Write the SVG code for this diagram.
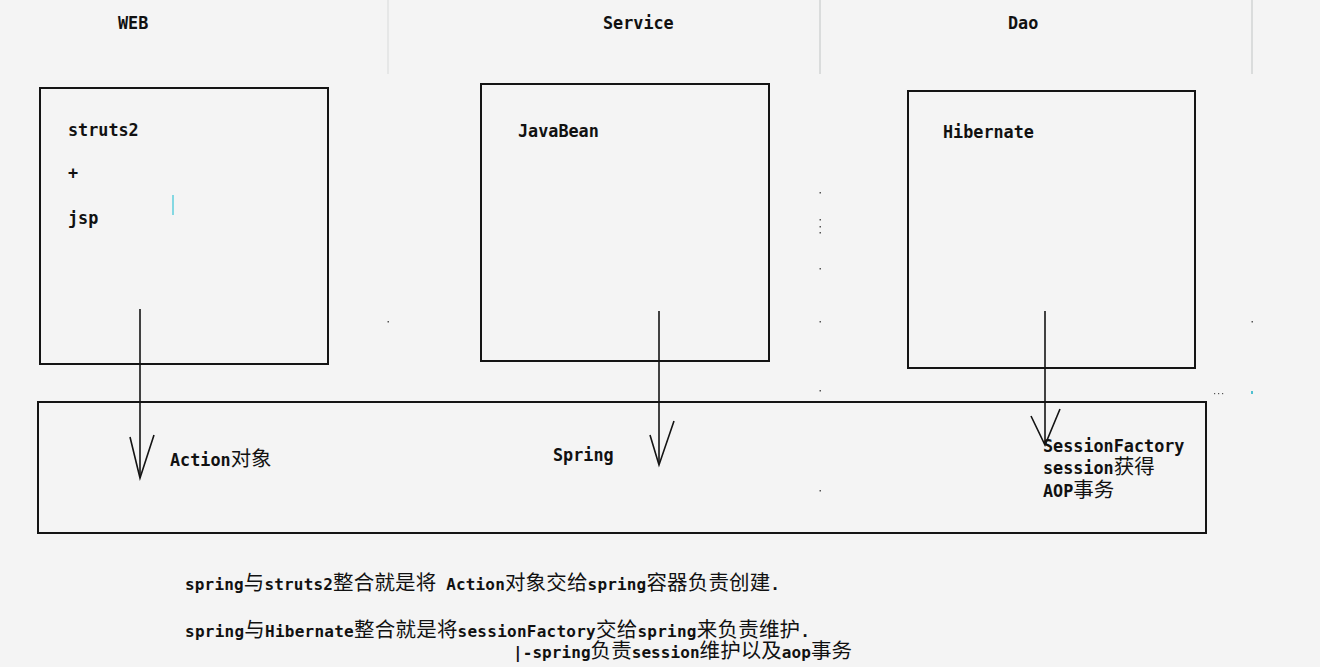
<svg xmlns="http://www.w3.org/2000/svg" width="1320" height="667" viewBox="0 0 1320 667">
<defs>
<style>
.bg{fill:#f4f4f4}
.box{fill:none;stroke:#141414;stroke-width:2}
.arr{fill:none;stroke:#141414;stroke-width:1.6}
.t{font-family:"DejaVu Sans Mono","Liberation Mono","Noto Sans CJK SC",monospace;font-weight:bold;font-size:16.8px;fill:#111}
.n{font-size:16px}
.c{font-family:"Noto Sans CJK SC",sans-serif;font-weight:normal;font-size:20.5px}
.sep{stroke:#c8cccc;stroke-width:1.2}
.dot{fill:#555}
</style>
</defs>
<rect class="bg" x="0" y="0" width="1320" height="667"/>
<g id="artifacts">
<line class="sep" x1="388" y1="0" x2="388" y2="74" stroke-opacity="0.5"/>
<line class="sep" x1="820" y1="0" x2="820" y2="74"/>
<line class="sep" x1="1252" y1="0" x2="1252" y2="74"/>
<line x1="173" y1="195" x2="173" y2="215" stroke="#5fcfdc" stroke-width="1.5"/>
<rect class="dot" x="819.5" y="192" width="1.5" height="1.5"/>
<rect class="dot" x="819.5" y="219" width="1.5" height="1.5"/>
<rect class="dot" x="819.5" y="226" width="1.5" height="1.5"/>
<rect class="dot" x="819.5" y="232" width="1.5" height="1.5"/>
<rect class="dot" x="819.5" y="268" width="1.5" height="1.5"/>
<rect class="dot" x="819.5" y="321" width="1.5" height="1.5"/>
<rect class="dot" x="819.5" y="390" width="1.5" height="1.5"/>
<rect class="dot" x="819.5" y="490" width="1.5" height="1.5"/>
<rect class="dot" x="387.5" y="321" width="1.5" height="1.5"/>
<rect class="dot" x="1251.5" y="321" width="1.5" height="1.5"/>
<rect x="1251" y="391" width="2" height="3" fill="#4fc0d0"/>
<rect class="dot" x="1214" y="393" width="1.2" height="1.2"/>
<rect class="dot" x="1218" y="393" width="1.2" height="1.2"/>
<rect class="dot" x="1222" y="393" width="1.2" height="1.2"/>
</g>
<g id="headers">
<text class="t" x="118" y="29">WEB</text>
<text class="t" x="603" y="29">Service</text>
<text class="t" x="1008" y="29">Dao</text>
</g>
<g id="web">
<rect class="box" x="40" y="88" width="288" height="276"/>
<text class="t" x="68" y="136">struts2</text>
<text class="t" x="68" y="179">+</text>
<text class="t" x="68" y="224">jsp</text>
</g>
<g id="service">
<rect class="box" x="481" y="84" width="288" height="277"/>
<text class="t" x="518" y="137">JavaBean</text>
</g>
<g id="dao">
<rect class="box" x="908" y="91" width="287" height="277"/>
<text class="t" x="943" y="138">Hibernate</text>
</g>
<g id="spring">
<rect class="box" x="38" y="402" width="1168" height="131"/>
<text class="t" x="170" y="466">Action<tspan class="c">对象</tspan></text>
<text class="t" x="553" y="461">Spring</text>
<text class="t" x="1043" y="452">SessionFactory</text>
<text class="t" x="1043" y="474">session<tspan class="c">获得</tspan></text>
<text class="t" x="1043" y="497">AOP<tspan class="c">事务</tspan></text>
</g>
<g id="connectors">
<line class="arr" x1="140" y1="309" x2="140" y2="477"/>
<polyline class="arr" points="130,437 140,478 154,435"/>
<line class="arr" x1="659" y1="311" x2="659" y2="464"/>
<polyline class="arr" points="650,435 659,465 674,421"/>
<line class="arr" x1="1045" y1="311" x2="1045" y2="443"/>
<polyline class="arr" points="1031,416 1045,445 1060,409"/>
</g>
<g id="notes">
<text class="t n" x="185" y="590" textLength="595" lengthAdjust="spacing">spring<tspan class="c">与</tspan>struts2<tspan class="c">整合就是将</tspan> Action<tspan class="c">对象交给</tspan>spring<tspan class="c">容器负责创建</tspan>.</text>
<text class="t n" x="185" y="637" textLength="625" lengthAdjust="spacing">spring<tspan class="c">与</tspan>Hibernate<tspan class="c">整合就是将</tspan>sessionFactory<tspan class="c">交给</tspan>spring<tspan class="c">来负责维护</tspan>.</text>
<text class="t n" x="513" y="658" textLength="339" lengthAdjust="spacing">|-spring<tspan class="c">负责</tspan>session<tspan class="c">维护以及</tspan>aop<tspan class="c">事务</tspan></text>
</g>
</svg>
